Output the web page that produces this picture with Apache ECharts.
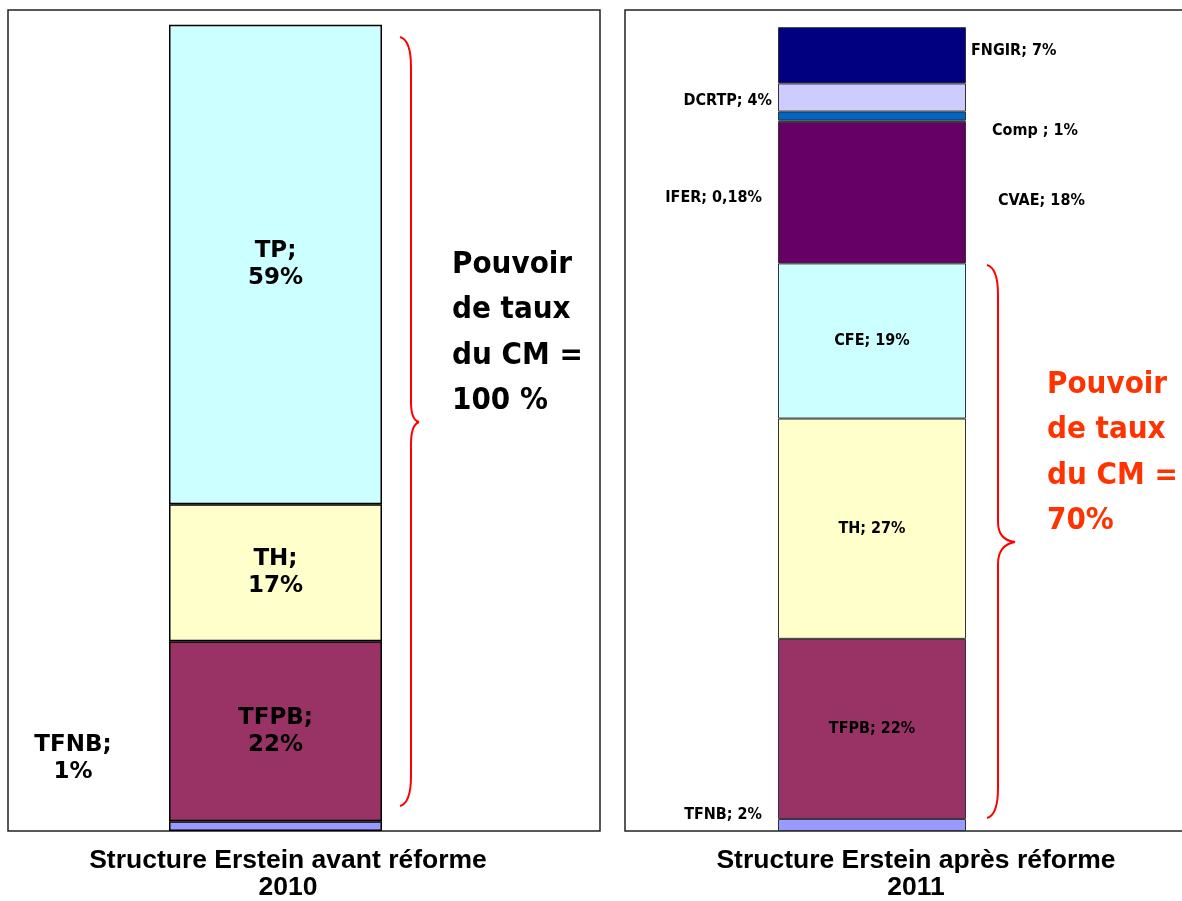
<!DOCTYPE html>
<html>
<head>
<meta charset="utf-8">
<script src="https://cdn.jsdelivr.net/npm/echarts@6/dist/echarts.min.js"></script>
<style>
  html, body { margin: 0; padding: 0; background: #fff; }
  #chart { width: 1182px; height: 901px; }
</style>
</head>
<body>
<div id="chart"></div>
<script>
// 2010 : avant réforme (de bas en haut)
const cats2010 = ['TFNB', 'TFPB', 'TH', 'TP']
const vals2010 = [1.2, 22.3, 17.0, 59.4]
const labels2010 = ['TFNB;\n1%', 'TFPB;\n22%', 'TH;\n17%', 'TP;\n59%']
const colors2010 = ['#9999FF', '#993366', '#FFFFCC', '#CCFFFF']

// 2011 : après réforme (de bas en haut)
const cats2011 = ['TFNB', 'TFPB', 'TH', 'CFE', 'CVAE', 'IFER', 'Comp', 'DCRTP', 'FNGIR']
const vals2011 = [1.5, 22.4, 27.4, 19.3, 17.6, 0.18, 1.1, 3.5, 7.0]
const labels2011 = ['TFNB; 2%', 'TFPB; 22%', 'TH; 27%', 'CFE; 19%', 'CVAE; 18%', 'IFER; 0,18%', 'Comp ; 1%', 'DCRTP; 4%', 'FNGIR; 7%']
const colors2011 = ['#9999FF', '#993366', '#FFFFCC', '#CCFFFF', '#660066', '#000000', '#0066CC', '#CCCCFF', '#000080']

const wide = 'DejaVu Sans'
const narrow = "'Liberation Sans Narrow', 'Arial Narrow', 'DejaVu Sans Condensed', sans-serif"

// placement des étiquettes hors barre
const place2010 = {
  TFNB: { position: 'left', distance: 96, align: 'center', offset: [0, -68] }
}
const place2011 = {
  TFNB: { position: 'left', distance: 16, offset: [0, -10] },
  CVAE: { position: 'right', distance: 32, offset: [0, 8] },
  IFER: { position: 'left', distance: 16, offset: [0, 77] },
  Comp: { position: 'right', distance: 26, offset: [0, 15] },
  DCRTP: { position: 'left', distance: 6, offset: [0, 3] },
  FNGIR: { position: 'right', distance: 5, offset: [0, -4] }
}

const series = []
cats2010.forEach((name, i) => {
  series.push({
    name: name + ' 2010',
    type: 'bar',
    stack: 'avant',
    xAxisIndex: 0,
    yAxisIndex: 0,
    barWidth: '100%',
    data: [vals2010[i]],
    itemStyle: { color: colors2010[i], borderColor: '#000', borderWidth: 1.5 },
    label: Object.assign({
      show: true,
      position: 'inside',
      formatter: labels2010[i],
      color: '#000',
      fontFamily: wide,
      fontWeight: 'bold',
      fontSize: 23,
      lineHeight: 27
    }, place2010[name] || {})
  })
})
cats2011.forEach((name, i) => {
  series.push({
    name: name + ' 2011',
    type: 'bar',
    stack: 'apres',
    xAxisIndex: 1,
    yAxisIndex: 1,
    barWidth: '100%',
    data: [vals2011[i]],
    itemStyle: { color: colors2011[i], borderColor: '#333', borderWidth: 1 },
    label: Object.assign({
      show: true,
      position: 'inside',
      formatter: labels2011[i],
      color: '#000',
      fontFamily: narrow,
      fontWeight: 'bold',
      fontSize: 16
    }, place2011[name] || {})
  })
})

// accolade verticale : haut, pointe, bas (x du trait, x de la pointe)
function brace(x0, xs, xt, y0, ym, y1) {
  const red = { stroke: '#FF0000', lineWidth: 2, fill: null }
  const c = (x1, y1, cx, cy, x2, y2) => ({ type: 'bezierCurve', shape: { x1, y1, cpx1: cx, cpy1: cy, x2, y2 }, style: red })
  const l = (x1, y1, x2, y2) => ({ type: 'line', shape: { x1, y1, x2, y2 }, style: red })
  return {
    type: 'group',
    children: [
      c(x0, y0, xs, y0 + 3, xs, y0 + 30),
      l(xs, y0 + 30, xs, ym - 20),
      c(xs, ym - 20, xs, ym - 2, xt, ym),
      c(xt, ym, xs, ym + 3, xs, ym + 22),
      l(xs, ym + 22, xs, y1 - 30),
      c(xs, y1 - 30, xs, y1 - 3, x0, y1)
    ]
  }
}

const chart = echarts.init(document.getElementById('chart'))
chart.setOption({
  animation: false,
  title: [
    {
      text: 'Structure Erstein avant réforme\n2010',
      left: 283, top: 842, textAlign: 'center',
      textStyle: { fontFamily: 'Liberation Sans', fontWeight: 'bold', fontSize: 26.5, lineHeight: 27, color: '#000' }
    },
    {
      text: 'Structure Erstein après réforme\n2011',
      left: 911, top: 842, textAlign: 'center',
      textStyle: { fontFamily: 'Liberation Sans', fontWeight: 'bold', fontSize: 26.5, lineHeight: 27, color: '#000' }
    }
  ],
  grid: [
    { left: 169, top: 24, width: 213, height: 807 },
    { left: 778, top: 27, width: 188, height: 804 }
  ],
  xAxis: [
    { type: 'category', gridIndex: 0, data: ['2010'], show: false },
    { type: 'category', gridIndex: 1, data: ['2011'], show: false }
  ],
  yAxis: [
    { type: 'value', gridIndex: 0, min: 0, max: 100, show: false },
    { type: 'value', gridIndex: 1, min: 0, max: 100, show: false }
  ],
  series: series,
  graphic: [
    // cadres des deux graphiques
    { type: 'rect', shape: { x: 8, y: 10, width: 592, height: 821 }, style: { fill: null, stroke: '#222', lineWidth: 1.5 }, z: -1 },
    { type: 'rect', shape: { x: 625, y: 10, width: 600, height: 821 }, style: { fill: null, stroke: '#222', lineWidth: 1.5 }, z: -1 },
    brace(400, 411, 419, 37, 422, 806),
    brace(987, 998, 1015, 265, 542, 818),
    {
      type: 'text', left: 452, top: 242,
      style: { text: 'Pouvoir\nde taux\ndu CM =\n100 %', fill: '#000', font: 'bold 31px ' + narrow, lineHeight: 45.5 }
    },
    {
      type: 'text', left: 1047, top: 362,
      style: { text: 'Pouvoir\nde taux\ndu CM =\n70%', fill: '#FF3300', font: 'bold 31px ' + narrow, lineHeight: 45.5 }
    }
  ]
})
</script>
</body>
</html>
